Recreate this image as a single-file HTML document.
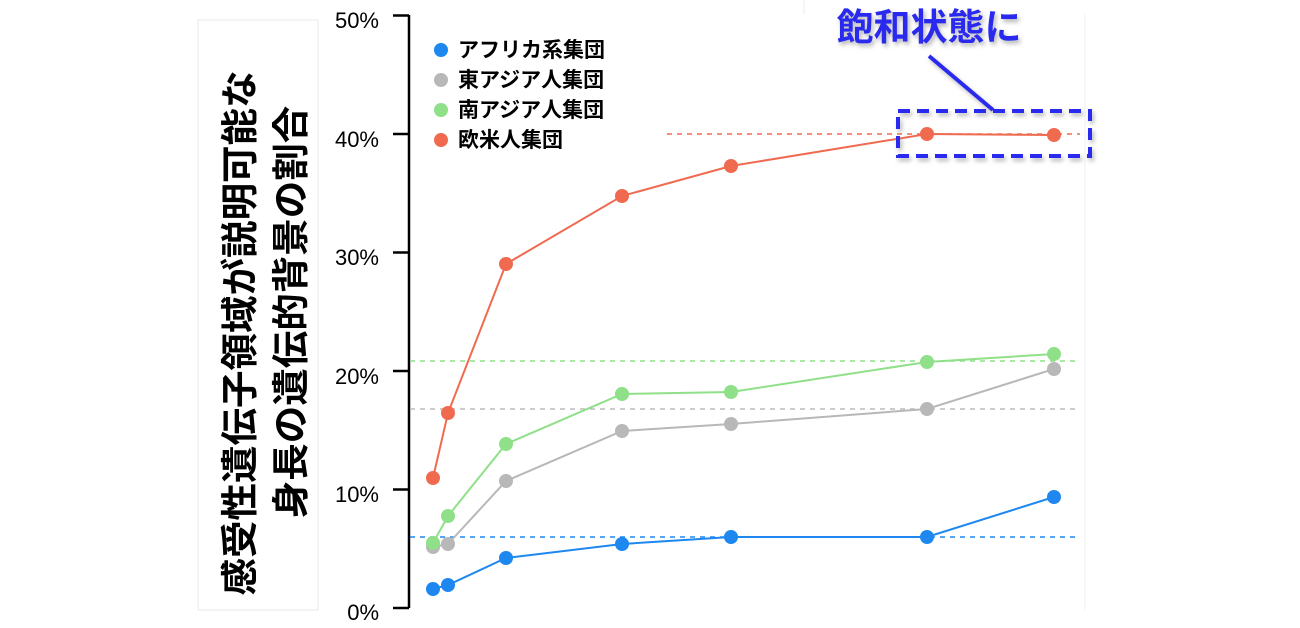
<!DOCTYPE html>
<html><head><meta charset="utf-8"><style>
html,body{margin:0;padding:0;background:#fff;}
body{width:1300px;height:628px;overflow:hidden;position:relative;font-family:"Liberation Sans","Noto Sans CJK JP",sans-serif;}
</style></head><body>
<svg width="1300" height="628" viewBox="0 0 1300 628" xmlns="http://www.w3.org/2000/svg" style="position:absolute;left:0;top:0">
<defs><filter id="sh" x="-10%" y="-30%" width="130%" height="170%"><feDropShadow dx="2" dy="3" stdDeviation="2" flood-color="#888" flood-opacity="0.6"/></filter></defs>
<rect x="198" y="20" width="120" height="590" fill="none" stroke="#e8e8e8" stroke-width="1"/>
<line x1="804" y1="0" x2="804" y2="14" stroke="#eee"/>
<line x1="1085" y1="14" x2="1085" y2="610" stroke="#f0f0f0"/>
<g font-family="'Liberation Sans','Noto Sans CJK JP',sans-serif" font-weight="bold" font-size="37.5" fill="#000" text-anchor="middle">
<text transform="translate(253,333) rotate(-90)">感受性遺伝子領域が説明可能な</text>
<text transform="translate(304,312) rotate(-90)">身長の遺伝的背景の割合</text>
</g>
<g stroke="#000" stroke-width="2.5" fill="none">
<line x1="409" y1="15" x2="409" y2="608"/>
<line x1="393" y1="15.5" x2="409" y2="15.5"/>
<line x1="393" y1="134" x2="409" y2="134"/>
<line x1="393" y1="252.5" x2="409" y2="252.5"/>
<line x1="393" y1="371" x2="409" y2="371"/>
<line x1="393" y1="489.5" x2="409" y2="489.5"/>
<line x1="393" y1="608" x2="409" y2="608"/>
</g>
<g font-size="22" fill="#000" text-anchor="end">
<text x="379" y="28">50%</text><text x="379" y="147">40%</text><text x="379" y="265">30%</text>
<text x="379" y="384">20%</text><text x="379" y="502">10%</text><text x="379" y="620">0%</text>
</g>
<g stroke-width="1.6" stroke-dasharray="5,5" fill="none">
<line x1="667" y1="134" x2="1080" y2="134" stroke="#f06a50"/>
<line x1="410" y1="361" x2="1080" y2="361" stroke="#8fe088"/>
<line x1="410" y1="409" x2="1080" y2="409" stroke="#bbb"/>
<line x1="410" y1="537" x2="1080" y2="537" stroke="#1e88f0"/>
</g>
<g stroke-width="2" fill="none">
<polyline stroke="#f06a50" points="433,478 448,413 506,264 622,196 731,166 927,134 1054,135"/>
<polyline stroke="#8fe088" points="433,543 448,516 506,444 622,394 731,392 927,362 1054,354"/>
<polyline stroke="#b8b8b8" points="433,547 448,544 506,481 622,431 731,424 927,409 1054,369"/>
<polyline stroke="#1e88f0" points="433,589 448,585 506,558 622,544 731,537 927,537 1054,497"/>
</g>
<g fill="#b8b8b8"><circle cx="433" cy="547" r="7"/><circle cx="448" cy="544" r="7"/><circle cx="506" cy="481" r="7"/><circle cx="622" cy="431" r="7"/><circle cx="731" cy="424" r="7"/><circle cx="927" cy="409" r="7"/><circle cx="1054" cy="369" r="7"/></g>
<g fill="#8fe088"><circle cx="433" cy="543" r="7"/><circle cx="448" cy="516" r="7"/><circle cx="506" cy="444" r="7"/><circle cx="622" cy="394" r="7"/><circle cx="731" cy="392" r="7"/><circle cx="927" cy="362" r="7"/><circle cx="1054" cy="354" r="7"/></g>
<g fill="#f06a50"><circle cx="433" cy="478" r="7"/><circle cx="448" cy="413" r="7"/><circle cx="506" cy="264" r="7"/><circle cx="622" cy="196" r="7"/><circle cx="731" cy="166" r="7"/><circle cx="927" cy="134" r="7"/><circle cx="1054" cy="135" r="7"/></g>
<g fill="#1e88f0"><circle cx="433" cy="589" r="7"/><circle cx="448" cy="585" r="7"/><circle cx="506" cy="558" r="7"/><circle cx="622" cy="544" r="7"/><circle cx="731" cy="537" r="7"/><circle cx="927" cy="537" r="7"/><circle cx="1054" cy="497" r="7"/></g>
<circle cx="441" cy="50" r="7" fill="#1e88f0"/><circle cx="441" cy="80" r="7" fill="#b8b8b8"/>
<circle cx="441" cy="110" r="7" fill="#8fe088"/><circle cx="441" cy="140" r="7" fill="#f06a50"/>
<g font-size="21" font-weight="bold" fill="#000">
<text x="458" y="57">アフリカ系集団</text><text x="458" y="87">東アジア人集団</text>
<text x="458" y="117">南アジア人集団</text><text x="458" y="147">欧米人集団</text>
</g>
<g filter="url(#sh)">
<rect x="898" y="111" width="192" height="45" fill="none" stroke="#2b2bee" stroke-width="4" stroke-dasharray="12,7"/>
<line x1="929" y1="56" x2="993" y2="110" stroke="#2b2bee" stroke-width="4"/>
<text x="929" y="40" text-anchor="middle" font-size="37" font-weight="bold" fill="#2b2bee">飽和状態に</text>
</g>
</svg>
</body></html>
